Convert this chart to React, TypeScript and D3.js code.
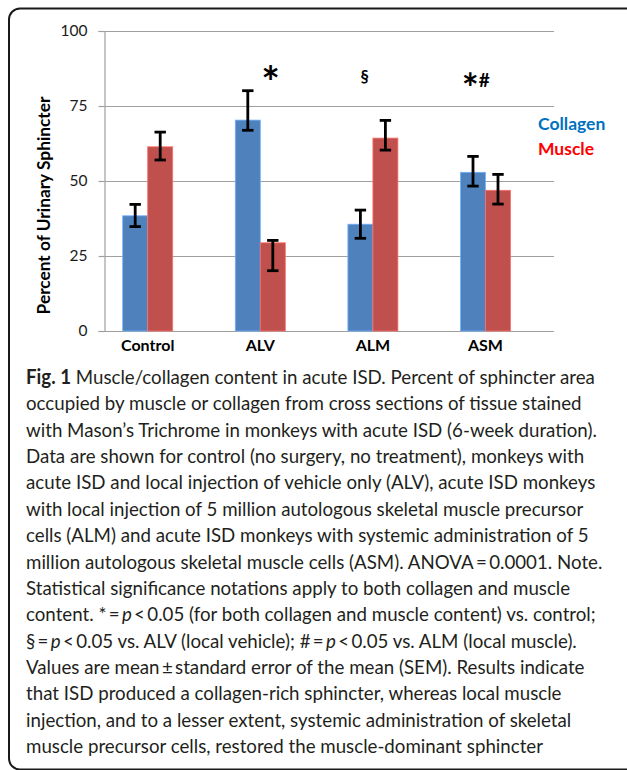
import React, { useEffect, useRef } from "react";
import * as d3 from "d3";

const categories = ["Control", "ALV", "ALM", "ASM"];
const seriesNames = ["Collagen", "Muscle"];
const seriesColors = ["#4F81BD", "#C0504D"];
const legendColors = ["#0070C0", "#FF0000"];
const collagen = [38.4, 70.3, 35.6, 52.9];
const collagenErrPlus = [3.8, 9.8, 4.7, 5.3];
const collagenErrMinus = [3.6, 3.4, 4.7, 4.6];
const muscle = [61.4, 29.4, 64.3, 46.9];
const muscleErrPlus = [4.9, 0.8, 5.9, 5.3];
const muscleErrMinus = [4.4, 9.3, 4.0, 4.6];
const yTicks = [0, 25, 50, 75, 100];
const significance = ["", "*", "§", "*#"];
const yTitle = "Percent of Urinary Sphincter";

type Seg = { t: string; b?: boolean; i?: boolean };
const captionLines: Seg[][] = [
  [{ t: "Fig. 1", b: true }, { t: " Muscle/collagen content in acute ISD. Percent of sphincter area" }],
  [{ t: "occupied by muscle or collagen from cross sections of tissue stained" }],
  [{ t: "with Mason\u2019s Trichrome in monkeys with acute ISD (6-week duration)." }],
  [{ t: "Data are shown for control (no surgery, no treatment), monkeys with" }],
  [{ t: "acute ISD and local injection of vehicle only (ALV), acute ISD monkeys" }],
  [{ t: "with local injection of 5 million autologous skeletal muscle precursor" }],
  [{ t: "cells (ALM) and acute ISD monkeys with systemic administration of 5" }],
  [{ t: "million autologous skeletal muscle cells (ASM). ANOVA\u2009=\u20090.0001. Note." }],
  [{ t: "Statistical significance notations apply to both collagen and muscle" }],
  [{ t: "content. *\u2009=\u2009" }, { t: "p", i: true }, { t: "\u2009<\u20090.05 (for both collagen and muscle content) vs. control;" }],
  [{ t: "\u00a7\u2009=\u2009" }, { t: "p", i: true }, { t: "\u2009<\u20090.05 vs. ALV (local vehicle); #\u2009=\u2009" }, { t: "p", i: true }, { t: "\u2009<\u20090.05 vs. ALM (local muscle)." }],
  [{ t: "Values are mean\u2009\u00b1\u2009standard error of the mean (SEM). Results indicate" }],
  [{ t: "that ISD produced a collagen-rich sphincter, whereas local muscle" }],
  [{ t: "injection, and to a lesser extent, systemic administration of skeletal" }],
  [{ t: "muscle precursor cells, restored the muscle-dominant sphincter" }],
];

const W = 627;
const H = 770;
const chartFont = "Lato, 'DejaVu Sans', sans-serif";

export default function App() {
  const ref = useRef<SVGSVGElement | null>(null);

  useEffect(() => {
    const svg = d3.select(ref.current);
    svg.selectAll("*").remove();

    // frame
    svg
      .append("rect")
      .attr("x", 9)
      .attr("y", 8.5)
      .attr("width", 640)
      .attr("height", 761)
      .attr("rx", 11)
      .attr("fill", "#fff")
      .attr("stroke", "#1a1a1a")
      .attr("stroke-width", 2);

    const plotL = 104.5;
    const plotR = 554;
    const y = d3.scaleLinear().domain([0, 100]).range([331, 31]);
    const x = d3.scaleBand<string>().domain(categories).range([91.4, 541.8]);
    const xs = d3
      .scaleBand<string>()
      .domain(seriesNames)
      .range([0, x.bandwidth()])
      .paddingInner(0)
      .paddingOuter(1.252);

    const g = svg.append("g");

    // gridlines
    g.selectAll("line.grid")
      .data(yTicks.filter((d) => d > 0))
      .join("line")
      .attr("class", "grid")
      .attr("x1", plotL)
      .attr("x2", plotR)
      .attr("y1", (d) => Math.round(y(d)) + 0.5)
      .attr("y2", (d) => Math.round(y(d)) + 0.5)
      .attr("stroke", "#a0a0a0")
      .attr("stroke-width", 1.2);

    // y axis
    const yAxis = d3
      .axisLeft(y)
      .tickValues(yTicks)
      .tickSize(6)
      .tickPadding(11)
      .tickFormat((d) => String(d));
    const ya = g.append("g").attr("transform", `translate(${plotL},0)`).call(yAxis);
    ya.select(".domain").attr("stroke", "#a0a0a0").attr("stroke-width", 1.2);
    ya.selectAll(".tick line").attr("stroke", "#a0a0a0").attr("stroke-width", 1.2);
    ya.selectAll(".tick text")
      .attr("font-family", chartFont)
      .attr("font-size", 15.5)
      .attr("fill", "#1a1a1a");

    // x axis line
    g.append("line")
      .attr("x1", plotL)
      .attr("x2", plotR)
      .attr("y1", y(0) + 0.5)
      .attr("y2", y(0) + 0.5)
      .attr("stroke", "#a0a0a0")
      .attr("stroke-width", 1.2);

    const series = [
      { name: seriesNames[0], values: collagen, plus: collagenErrPlus, minus: collagenErrMinus, color: seriesColors[0] },
      { name: seriesNames[1], values: muscle, plus: muscleErrPlus, minus: muscleErrMinus, color: seriesColors[1] },
    ];

    series.forEach((s) => {
      const sg = g.append("g");
      sg.selectAll("rect")
        .data(s.values)
        .join("rect")
        .attr("x", (_, i) => (x(categories[i]) as number) + (xs(s.name) as number))
        .attr("width", xs.bandwidth())
        .attr("y", (d) => y(d))
        .attr("height", (d) => y(0) - y(d))
        .attr("fill", s.color)
        .attr("stroke", d3.color(s.color)!.brighter(0.9).formatHex())
        .attr("stroke-width", 0.8);
    });

    // error bars
    const cap = 5.7;
    series.forEach((s) => {
      const eg = g.append("g").attr("stroke", "#000").attr("stroke-width", 2.8).attr("fill", "none");
      s.values.forEach((v, i) => {
        const cx = (x(categories[i]) as number) + (xs(s.name) as number) + xs.bandwidth() / 2;
        const top = y(v + s.plus[i]);
        const bot = y(v - s.minus[i]);
        eg.append("line").attr("x1", cx).attr("x2", cx).attr("y1", top).attr("y2", bot);
        eg.append("line").attr("x1", cx - cap).attr("x2", cx + cap).attr("y1", top).attr("y2", top);
        eg.append("line").attr("x1", cx - cap).attr("x2", cx + cap).attr("y1", bot).attr("y2", bot);
      });
    });

    // category labels
    g.selectAll("text.cat")
      .data(categories)
      .join("text")
      .attr("class", "cat")
      .attr("x", (d) => (x(d) as number) + x.bandwidth() / 2)
      .attr("y", 351)
      .attr("text-anchor", "middle")
      .attr("font-family", chartFont)
      .attr("font-weight", 700)
      .attr("font-size", 16)
      .attr("fill", "#000")
      .text((d) => d);

    // y title
    g.append("text")
      .attr("transform", `translate(49.5,205.5) rotate(-90)`)
      .attr("text-anchor", "middle")
      .attr("font-family", chartFont)
      .attr("font-weight", 700)
      .attr("font-size", 17.3)
      .attr("fill", "#000")
      .text(yTitle);

    // significance marks
    const sigOffsets = [0, 10.4, -8.3, -9.8];
    significance.forEach((s, i) => {
      if (!s) return;
      const cx = (x(categories[i]) as number) + x.bandwidth() / 2 + sigOffsets[i];
      const t = g
        .append("text")
        .attr("x", cx)
        .attr("text-anchor", "middle")
        .attr("font-family", chartFont)
        .attr("font-weight", 700)
        .attr("fill", "#000");
      if (s === "*") {
        t.attr("y", y(85.3) + 23).attr("font-size", 44).text(s);
      } else if (s === "§") {
        t.attr("y", y(84.2) + 5).attr("font-size", 16.5).text(s);
      } else {
        t.attr("y", 86.7).attr("font-size", 19);
        t.append("tspan").attr("font-size", 40).attr("dy", 16).text("*");
        t.append("tspan").attr("font-size", 19).attr("dy", -16).text("#");
      }
    });

    // legend
    seriesNames.forEach((n, i) => {
      g.append("text")
        .attr("x", 538)
        .attr("y", 130 + i * 25)
        .attr("font-family", chartFont)
        .attr("font-weight", 700)
        .attr("font-size", 17.5)
        .attr("fill", legendColors[i])
        .text(n);
    });

    // caption
    const cg = svg.append("g");
    const captionFont = "Lato, 'Open Sans', sans-serif";
    const nodes: SVGTextElement[] = [];
    captionLines.forEach((line, li) => {
      const t = cg
        .append("text")
        .attr("x", 0)
        .attr("y", 384 + li * 26.36)
        .attr("font-family", captionFont)
        .attr("font-size", 20)
        .attr("fill", "#231f20")
        .attr("xml:space", "preserve")
        .style("white-space", "pre");
      line.forEach((seg) => {
        const ts = t.append("tspan").text(seg.t);
        if (seg.b) ts.attr("font-weight", 700);
        if (seg.i) ts.attr("font-style", "italic");
      });
      nodes.push(t.node() as SVGTextElement);
    });
    const w0 = nodes[0].getComputedTextLength();
    const k = w0 > 0 ? 569 / w0 : 1;
    cg.attr("transform", `translate(26,0) scale(${k},1)`);
  }, []);

  return (
    <svg
      ref={ref}
      width={W}
      height={H}
      viewBox={`0 0 ${W} ${H}`}
      style={{ position: "absolute", left: 0, top: 0, display: "block", background: "#fff" }}
    />
  );
}
